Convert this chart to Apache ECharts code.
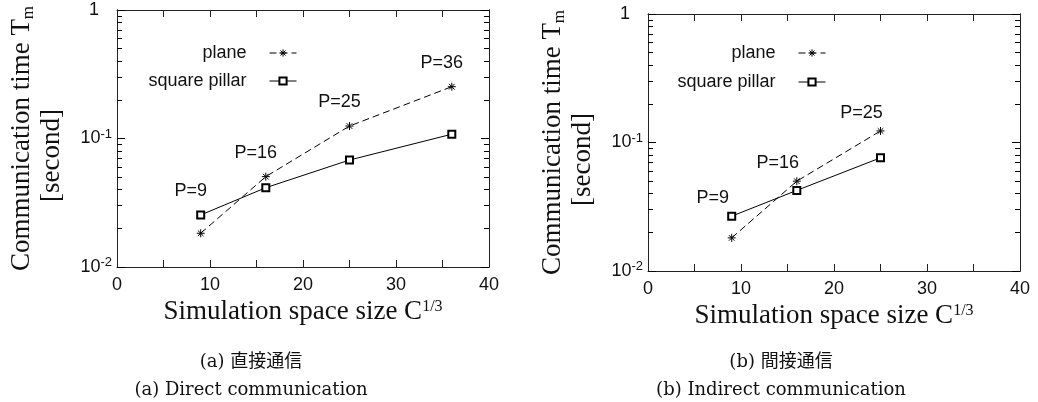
<!DOCTYPE html>
<html>
<head>
<meta charset="utf-8">
<script src="https://cdn.jsdelivr.net/npm/echarts@6/dist/echarts.min.js"></script>
<style>
  html, body { margin: 0; padding: 0; background: #fff; }
  #chart { width: 1038px; height: 402px; }
</style>
</head>
<body>
<div id="chart"></div>
<script>
// values
const directSizes = [9, 16, 25, 36];
const directPlane = [0.0183, 0.0505, 0.125, 0.253];
const directPillar = [0.0254, 0.0414, 0.068, 0.108];

const indirectSizes = [9, 16, 25];
const indirectPlane = [0.0181, 0.050, 0.123];
const indirectPillar = [0.0267, 0.0424, 0.076];

const procLabels = ['P=9', 'P=16', 'P=25', 'P=36'];
const xLabelTicks = [0, 10, 20, 30, 40];
const yMinorTicks = [0.02, 0.03, 0.04, 0.05, 0.06, 0.07, 0.08, 0.09,
                     0.2, 0.3, 0.4, 0.5, 0.6, 0.7, 0.8, 0.9];

const ink = '#111';
const sans = 'Liberation Sans';
const serif = 'Liberation Serif';
const asterisk = 'path://M0,4L8,4M4,0L4,8M1.2,1.2L6.8,6.8M6.8,1.2L1.2,6.8';

let myChart = echarts.init(document.getElementById('chart'));

function xAxes(g) {
    let base = {
        gridIndex: g, type: 'value', min: 0, max: 40, interval: 5,
        axisLine: { show: true, onZero: false, lineStyle: { color: '#222', width: 1 } },
        axisTick: { show: true, inside: true, length: 7, lineStyle: { color: '#222' } },
        splitLine: { show: false }
    };
    return [
        Object.assign({}, base, {
            position: 'bottom',
            axisLabel: {
                color: ink, fontFamily: sans, fontSize: 18, margin: 9,
                formatter: v => xLabelTicks.includes(v) ? String(v) : ''
            },
            name: 'Simulation space size C{sup|1/3}',
            nameLocation: 'middle',
            nameGap: 30,
            nameTextStyle: {
                color: ink, fontFamily: serif, fontSize: 27,
                rich: { sup: { fontFamily: serif, fontSize: 16, color: ink, verticalAlign: 'top', lineHeight: 22 } }
            }
        }),
        Object.assign({}, base, { position: 'top', axisLabel: { show: false } })
    ];
}

function yAxes(g) {
    let major = {
        gridIndex: g, type: 'log', min: 0.01, max: 1,
        axisLine: { show: true, lineStyle: { color: '#222' } },
        axisTick: { show: true, inside: true, length: 8, lineStyle: { color: '#000' } },
        splitLine: { show: false }
    };
    // minor ticks at 2..9 x 10^k on an overlaid log axis
    let minor = {
        gridIndex: g, type: 'log', min: 0.01, max: 1,
        axisLine: { show: true, lineStyle: { color: '#222' } },
        axisTick: { show: true, inside: true, length: 5, lineStyle: { color: '#000' },
                    customValues: yMinorTicks },
        axisLabel: { show: true, customValues: yMinorTicks, formatter: () => '' },
        splitLine: { show: false }
    };
    return [
        Object.assign({}, major, {
            position: 'left',
            axisLabel: {
                margin: 5,
                formatter: v => v >= 1 ? '{one|1}' : '{b|10}{s|' + Math.round(Math.log10(v)) + '}',
                rich: {
                    one: { fontFamily: sans, fontSize: 18, color: ink, padding: [0, 13, 0, 0] },
                    b: { fontFamily: sans, fontSize: 18, color: ink, lineHeight: 22 },
                    s: { fontFamily: sans, fontSize: 13, color: ink, verticalAlign: 'top', lineHeight: 22 }
                }
            },
            name: 'Communication time T{sub|m}\n{l2|[second]}',
            nameLocation: 'middle',
            nameRotate: 90,
            nameGap: 50,
            nameTextStyle: {
                color: ink, fontFamily: serif, fontSize: 27, lineHeight: 30,
                rich: {
                    sub: { fontFamily: serif, fontSize: 17, color: ink, verticalAlign: 'bottom', lineHeight: 30 },
                    l2: { fontFamily: serif, fontSize: 27, color: ink, lineHeight: 30, padding: [0, 34, 0, 0] }
                }
            }
        }),
        Object.assign({}, minor, { position: 'left' }),
        Object.assign({}, major, { position: 'right', axisLabel: { show: false } }),
        Object.assign({}, minor, { position: 'right' })
    ];
}

function buildSeries(g, xs, plane, pillar, labelOffset) {
    // the P= label sits above whichever curve is higher at that size
    let pts = (ys, other) => xs.map((x, i) => {
        let item = { value: [x, ys[i]] };
        if (ys[i] >= other[i]) {
            item.label = { show: true, formatter: procLabels[i] };
        }
        return item;
    });
    let label = {
        position: 'inside', offset: labelOffset,
        color: ink, fontFamily: sans, fontSize: 18
    };
    return [{
        name: 'plane', type: 'line', xAxisIndex: g * 2, yAxisIndex: g * 4,
        data: pts(plane, pillar),
        symbol: asterisk, symbolSize: 8, showAllSymbol: true,
        itemStyle: { color: '#000', borderColor: '#000', borderWidth: 1 },
        lineStyle: { color: '#000', width: 1, type: [7, 4] },
        label: label,
        emphasis: { disabled: true }, z: 3
    }, {
        name: 'square pillar', type: 'line', xAxisIndex: g * 2, yAxisIndex: g * 4,
        data: pts(pillar, plane),
        symbol: 'emptyRect', symbolSize: 7, showAllSymbol: true,
        itemStyle: { color: '#000', borderColor: '#000', borderWidth: 1 },
        lineStyle: { color: '#000', width: 1 },
        label: label,
        emphasis: { disabled: true }, z: 2
    }];
}

function legend(name, right, top) {
    return {
        data: [name], right: right, top: top, padding: 0,
        align: 'right', selectedMode: false,
        itemWidth: 27, itemHeight: 9,
        itemStyle: { borderWidth: 1, borderColor: '#000' },
        lineStyle: { width: 1 },
        textStyle: { color: ink, fontFamily: sans, fontSize: 18, padding: [0, 18, 0, 0] }
    };
}

function caption(x, y, text, font) {
    return {
        type: 'text', x: x, y: y,
        style: { text: text, font: font, fill: ink,
                 align: 'center', verticalAlign: 'middle',
                 textAlign: 'center', textVerticalAlign: 'middle' }
    };
}

let option = {
    animation: false,
    backgroundColor: '#fff',
    grid: [
        { left: 117, top: 10, width: 372, height: 257 },
        { left: 648, top: 14, width: 372, height: 257 }
    ],
    xAxis: xAxes(0).concat(xAxes(1)),
    yAxis: yAxes(0).concat(yAxes(1)),
    legend: [
        legend('plane', 741, 44),
        legend('square pillar', 741, 72),
        legend('plane', 212, 44),
        legend('square pillar', 212, 73)
    ],
    series: buildSeries(0, directSizes, directPlane, directPillar, [-10, -24])
        .concat(buildSeries(1, indirectSizes, indirectPlane, indirectPillar, [-19, -18])),
    graphic: [
        caption(251, 362, '(a) 直接通信', '18px "DejaVu Serif", "Noto Sans CJK JP"'),
        caption(251, 390, '(a) Direct communication', '18px "DejaVu Serif"'),
        caption(781, 362, '(b) 間接通信', '18px "DejaVu Serif", "Noto Sans CJK JP"'),
        caption(781, 390, '(b) Indirect communication', '18px "DejaVu Serif"')
    ]
};
myChart.setOption(option);
</script>
</body>
</html>
